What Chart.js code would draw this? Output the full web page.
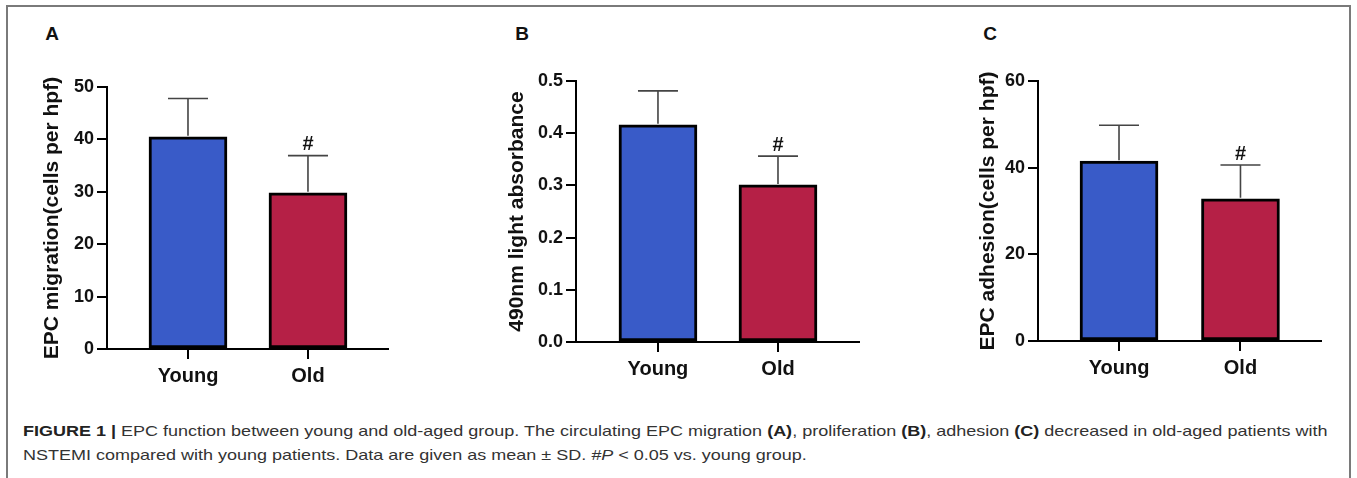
<!DOCTYPE html>
<html>
<head>
<meta charset="utf-8">
<script src="https://cdn.jsdelivr.net/npm/chart.js@4.4.1/dist/chart.umd.min.js"></script>
<style>
  html, body { margin:0; padding:0; background:#fff; }
  body { width:1357px; height:478px; position:relative; overflow:hidden; font-family:"Liberation Sans", Arial, sans-serif; }
  #frame { position:absolute; left:6px; top:5px; width:1345px; height:490px; border:2px solid #7a7a7a; box-sizing:border-box; }
  .panel { position:absolute; }
  .letter { position:absolute; font:bold 19px "Liberation Sans", Arial, sans-serif; color:#111; transform:translate(-50%,-50%); }
  #caption { position:absolute; left:23px; top:419px; font:15px "Liberation Sans", Arial, sans-serif; color:#333; line-height:24px; white-space:nowrap; transform:scaleX(1.2); transform-origin:0 0; }
  #caption b { color:#222; }
</style>
</head>
<body>
<div id="frame"></div>
<div class="letter" style="left:52px;top:34px">A</div>
<div class="letter" style="left:522px;top:34px">B</div>
<div class="letter" style="left:990px;top:34px">C</div>
<canvas id="cA" class="panel"></canvas>
<canvas id="cB" class="panel"></canvas>
<canvas id="cC" class="panel"></canvas>
<div id="caption"><b>FIGURE 1 |</b> EPC function between young and old-aged group. The circulating EPC migration <b>(A)</b>, proliferation <b>(B)</b>, adhesion <b>(C)</b> decreased in old-aged patients with<br>NSTEMI compared with young patients. Data are given as mean ± SD. <i>#P</i> &lt; 0.05 vs. young group.</div>
<script>
/* ---------- data ---------- */
const groups = ["Young", "Old"];
const sigMarks = ["", "#"];

const migrationMean = [40.5, 29.8];
const migrationSD   = [7.3, 7.1];

const absorbMean = [0.416, 0.301];
const absorbSD   = [0.065, 0.055];

const adhesionMean = [41.5, 32.8];
const adhesionSD   = [8.3, 7.8];

/* ---------- style ---------- */
const C = { blue:"#395BC8", red:"#B52046", ink:"#111", err:"#444" };
const FONT = '"Liberation Sans", Arial, sans-serif';

// draws the upward SD whisker + cap and the significance mark from the data
const errorBars = {
  id: "errorBars",
  afterDatasetsDraw(chart) {
    const { ctx, scales:{ y } } = chart;
    const meta = chart.getDatasetMeta(0);
    const sd = chart.options.plugins.errorBars.sd;
    const mean = chart.data.datasets[0].data.map(p => p.y);
    ctx.save();
    meta.data.forEach((bar, i) => {
      const top = y.getPixelForValue(mean[i] + sd[i]);
      ctx.strokeStyle = C.err; ctx.lineWidth = 1.6;
      ctx.beginPath();
      ctx.moveTo(bar.x, bar.y - 1); ctx.lineTo(bar.x, top);
      ctx.moveTo(bar.x - 20, top); ctx.lineTo(bar.x + 20, top);
      ctx.stroke();
      if (sigMarks[i]) {
        ctx.fillStyle = C.ink;
        ctx.font = "bold 20px " + FONT;
        ctx.textAlign = "center"; ctx.textBaseline = "bottom";
        ctx.fillText(sigMarks[i], bar.x, top - 1);
      }
    });
    ctx.restore();
  }
};

// geometry is given in page pixels; the canvas is placed so that the plot area lands there
function panel(id, g, mean, sd, yOpt) {
  const YW = 100, TOP = 40, BOTTOM = 400;
  const el = document.getElementById(id);
  const left = g.axisX - YW;
  const width = g.right + 10 - left;
  el.style.left = left + "px"; el.style.top = TOP + "px";
  el.width = width; el.height = BOTTOM - TOP;
  el.style.width = width + "px"; el.style.height = (BOTTOM - TOP) + "px";
  const titleLH = 21 * 1.2;

  new Chart(el, {
    type: "bar",
    data: { datasets: [{
      data: mean.map((v, i) => ({ x: i, y: v })),
      backgroundColor: [C.blue, C.red],
      borderColor: "#000", borderWidth: 3, borderSkipped: false,
      barThickness: 78
    }]},
    options: {
      responsive: false, animation: false, devicePixelRatio: 1,
      layout: { padding: { top: g.top - TOP, right: 10, left: 0, bottom: 0 } },
      plugins: { legend: { display:false }, tooltip: { enabled:false }, errorBars: { sd } },
      scales: {
        x: {
          type: "linear", min: g.xmin, max: g.xmax, offset: false,
          afterBuildTicks: s => { s.ticks = groups.map((_, i) => ({ value: i })); },
          afterFit: s => { s.height = BOTTOM - g.bottom; },
          ticks: { callback: v => groups[v], color: C.ink, padding: 5,
                   font: { family: FONT, size: 20, weight: "bold" } },
          grid: { offset: false, drawOnChartArea: false, drawTicks: true, tickLength: 10, color: "#000", lineWidth: 2 },
          border: { color: "#000", width: 2 }
        },
        y: {
          min: yOpt.min, max: yOpt.max,
          afterFit: s => { s.width = YW; },
          ticks: { stepSize: yOpt.step, callback: yOpt.fmt, color: C.ink, padding: 3,
                   font: { family: FONT, size: 18, weight: "bold" } },
          grid: { drawOnChartArea: false, drawTicks: true, tickLength: 10, color: "#000", lineWidth: 2 },
          border: { color: "#000", width: 2 },
          title: { display: true, text: yOpt.title, color: C.ink,
                   font: { family: FONT, size: 21, weight: "bold" },
                   padding: { top: g.titleX - left - titleLH / 2, bottom: 0 } }
        }
      }
    },
    plugins: [errorBars]
  });
}

panel("cA", { axisX:107, top:87, bottom:349, right:388, xmin:-0.675, xmax:1.667, titleX:52 },
      migrationMean, migrationSD,
      { min:0, max:50, step:10, fmt: v => v, title:"EPC migration(cells per hpf)" });
panel("cB", { axisX:576, top:81, bottom:342, right:859, xmin:-0.683, xmax:1.675, titleX:517 },
      absorbMean, absorbSD,
      { min:0, max:0.5, step:0.1, fmt: v => v.toFixed(1), title:"490nm light absorbance" });
panel("cC", { axisX:1038, top:81, bottom:341, right:1321, xmin:-0.667, xmax:1.663, titleX:988 },
      adhesionMean, adhesionSD,
      { min:0, max:60, step:20, fmt: v => v, title:"EPC adhesion(cells per hpf)" });
</script>
</body>
</html>
